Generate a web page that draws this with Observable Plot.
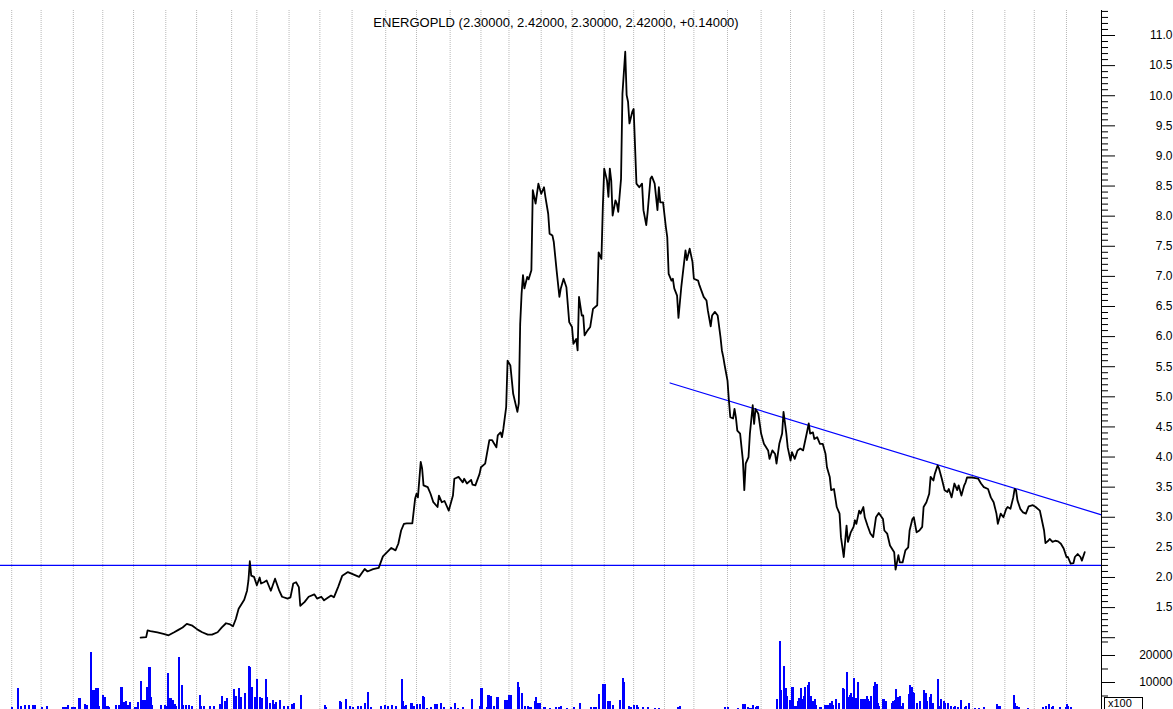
<!DOCTYPE html>
<html><head><meta charset="utf-8">
<script src="https://cdn.jsdelivr.net/npm/d3@7"></script>
<script src="https://cdn.jsdelivr.net/npm/@observablehq/plot@0.6"></script>
<style>
html,body{margin:0;padding:0;background:#fff;overflow:hidden;}
#wrap{position:relative;width:1173px;height:709px;overflow:hidden;font-family:"Liberation Sans",Arial,sans-serif;}
#wrap svg{position:absolute;left:0;top:0;}
#mult{position:absolute;left:1104px;top:697px;width:39px;height:16px;border:1px solid #000;font-size:11px;line-height:11px;padding-left:3px;box-sizing:border-box;background:#fff;}
</style></head>
<body><div id="wrap"></div>
<script>
// ---- data (session index, value) ----
const title = "ENERGOPLD (2.30000, 2.42000, 2.30000, 2.42000, +0.14000)";
const monthStarts = [8,29,52,73,95,118,140,165,183,206,228,251,275,297,321,343,363,386,408,431,452,474,495,519,543,564,588,609,629,652,674,694,717,738,761];
const supportLevel = 2.2;
const trendDays = [478, 786];
const trendValues = [5.23, 3.04];
const price = [[100,1.00],[104,1.01],[105,1.12],[107,1.11],[112,1.09],[117,1.06],[120,1.04],[124,1.09],[127,1.13],[130,1.17],[133,1.23],[137,1.20],[141,1.13],[144,1.09],[148,1.05],[151,1.05],[155,1.09],[158,1.17],[161,1.24],[164,1.22],[166,1.19],[168,1.31],[170,1.48],[174,1.63],[176,1.78],[177,1.95],[178,2.27],[179,2.03],[181,2.01],[183,1.87],[185,2.00],[186,1.90],[188,1.92],[190,1.95],[193,1.78],[196,1.98],[199,1.78],[201,1.68],[205,1.65],[207,1.67],[209,1.90],[211,1.92],[213,1.84],[214,1.53],[217,1.59],[220,1.68],[224,1.72],[226,1.65],[229,1.68],[231,1.62],[236,1.70],[238,1.67],[241,1.84],[244,2.03],[248,2.09],[251,2.06],[256,2.01],[260,2.14],[262,2.10],[266,2.14],[270,2.16],[273,2.35],[276,2.42],[279,2.49],[282,2.45],[284,2.56],[286,2.78],[288,2.89],[290,2.90],[294,2.90],[296,3.31],[297,3.39],[298,3.33],[300,3.92],[301,3.81],[302,3.53],[305,3.50],[307,3.39],[309,3.25],[312,3.17],[313,3.36],[315,3.25],[317,3.27],[320,3.11],[323,3.36],[324,3.64],[327,3.67],[330,3.58],[331,3.64],[333,3.56],[336,3.62],[337,3.54],[339,3.53],[342,3.72],[343,3.83],[346,3.89],[349,4.28],[351,4.28],[354,4.16],[355,4.36],[357,4.41],[358,4.33],[359,4.47],[361,4.83],[362,5.60],[364,5.52],[366,5.05],[369,4.75],[370,4.89],[371,6.21],[372,6.71],[373,7.02],[374,6.80],[376,6.99],[377,6.95],[379,7.10],[380,8.43],[382,8.21],[384,8.54],[386,8.37],[388,8.48],[389,8.32],[391,8.04],[392,7.71],[394,7.68],[395,7.57],[397,7.10],[399,6.66],[400,6.80],[402,6.96],[404,6.82],[406,6.24],[408,6.16],[409,5.88],[411,5.96],[412,5.77],[413,6.66],[415,6.35],[416,6.35],[417,6.02],[419,6.10],[421,6.16],[423,6.46],[426,6.52],[427,7.40],[429,7.29],[430,8.15],[431,8.79],[433,8.59],[434,8.32],[435,8.79],[436,8.59],[437,8.01],[439,8.26],[440,8.21],[441,8.07],[443,8.62],[444,10.03],[446,10.73],[447,10.01],[448,9.90],[449,9.54],[451,9.73],[452,9.78],[454,8.54],[456,8.48],[458,8.54],[459,8.10],[461,7.85],[462,8.07],[464,8.62],[465,8.66],[467,8.54],[469,8.10],[470,8.48],[471,8.23],[473,8.23],[475,7.82],[476,7.65],[477,7.04],[479,6.93],[480,6.96],[481,6.80],[483,6.68],[484,6.31],[486,6.82],[489,7.43],[490,7.27],[492,7.46],[494,7.24],[495,6.96],[498,6.93],[499,6.85],[502,6.66],[504,6.60],[505,6.43],[507,6.17],[508,6.35],[510,6.41],[512,6.35],[514,5.99],[515,5.77],[516,5.66],[517,5.52],[519,5.27],[520,4.94],[521,4.66],[523,4.64],[524,4.80],[525,4.66],[526,4.44],[528,4.39],[530,3.94],[531,3.45],[532,3.89],[534,4.00],[535,4.39],[537,4.86],[538,4.55],[539,4.80],[541,4.72],[543,4.39],[545,4.22],[548,4.11],[549,3.97],[551,4.11],[553,4.05],[554,3.89],[556,4.22],[558,4.39],[559,4.75],[561,4.39],[562,4.16],[564,3.94],[565,4.08],[567,3.97],[569,4.11],[571,4.14],[573,4.11],[574,4.22],[576,4.44],[577,4.56],[578,4.39],[580,4.41],[581,4.30],[583,4.33],[585,4.22],[587,4.22],[589,4.05],[590,3.83],[592,3.67],[593,3.45],[595,3.47],[597,3.17],[599,3.06],[600,2.67],[602,2.34],[604,2.86],[605,2.59],[607,2.75],[609,2.84],[610,2.95],[611,2.89],[613,3.11],[614,3.06],[616,3.17],[617,3.00],[619,2.86],[621,2.73],[623,2.67],[625,3.00],[627,3.07],[630,2.97],[631,2.78],[633,2.73],[635,2.53],[638,2.42],[639,2.13],[641,2.37],[642,2.25],[644,2.25],[646,2.45],[648,2.50],[649,2.78],[651,2.97],[652,3.00],[654,2.75],[656,2.78],[658,2.84],[659,3.17],[661,3.25],[663,3.39],[664,3.67],[666,3.61],[667,3.72],[669,3.86],[670,3.81],[672,3.64],[674,3.45],[676,3.42],[677,3.47],[679,3.33],[681,3.56],[683,3.45],[684,3.53],[686,3.36],[688,3.53],[689,3.58],[690,3.66],[694,3.66],[698,3.64],[700,3.56],[702,3.50],[705,3.47],[707,3.33],[709,3.25],[711,3.06],[712,2.89],[714,3.06],[716,3.00],[718,3.14],[719,3.17],[721,3.14],[723,3.33],[724,3.47],[725,3.45],[726,3.28],[728,3.14],[730,3.08],[732,3.06],[734,3.18],[737,3.20],[739,3.17],[742,3.11],[743,3.00],[745,2.78],[746,2.57],[748,2.61],[749,2.64],[751,2.59],[753,2.61],[755,2.60],[757,2.56],[759,2.48],[761,2.34],[762,2.34],[764,2.23],[766,2.24],[767,2.34],[769,2.39],[771,2.34],[772,2.28],[774,2.42]];
const volume = [[8,850],[12,7700],[14,1200],[17,1300],[20,1400],[23,1300],[24,1300],[29,600],[33,1100],[44,700],[46,900],[48,1600],[51,700],[53,900],[56,4000],[60,2000],[61,1600],[64,21000],[66,7100],[68,7700],[69,7700],[70,1100],[73,5200],[74,4300],[76,1100],[77,900],[82,1600],[84,1300],[86,8000],[88,2500],[89,2800],[91,1600],[92,2500],[96,700],[98,2700],[100,10300],[101,3500],[103,3500],[104,8000],[106,15500],[107,4500],[108,1300],[114,1600],[117,1600],[118,1100],[119,13300],[120,1300],[121,4200],[123,3500],[124,2000],[125,1100],[127,19100],[129,8900],[130,1300],[132,1600],[134,1500],[136,1200],[142,5200],[143,1100],[145,1100],[149,1100],[152,1100],[156,2000],[158,4800],[160,3000],[161,4000],[166,7400],[167,4500],[168,5000],[170,7700],[171,4500],[174,5800],[177,15800],[178,15600],[179,8200],[181,4500],[183,11100],[185,4500],[186,4000],[189,11100],[190,4500],[192,2300],[194,3500],[195,1900],[196,2700],[199,3500],[202,1100],[205,1100],[208,1900],[209,2100],[214,5200],[231,1300],[232,600],[242,3100],[243,2500],[246,3700],[249,1100],[251,900],[255,1100],[257,1100],[260,2100],[262,6400],[264,600],[271,1100],[274,1400],[276,1100],[279,1400],[282,1100],[286,11100],[287,2800],[288,1100],[289,1300],[293,2300],[295,1100],[297,1900],[299,1900],[301,4900],[302,4300],[304,300],[307,900],[310,1900],[311,1900],[314,2300],[316,700],[321,900],[324,2100],[326,300],[330,900],[336,3700],[342,1100],[343,7700],[347,900],[348,5200],[350,4800],[352,1100],[354,4600],[355,4600],[360,3500],[361,3500],[363,5200],[364,5200],[369,9900],[370,8200],[372,5800],[374,1100],[376,1100],[378,600],[381,2800],[382,4300],[383,2300],[385,2100],[388,700],[392,300],[396,700],[398,900],[400,1100],[404,500],[409,700],[413,2100],[421,700],[423,600],[425,700],[427,5600],[430,9300],[431,9300],[433,2800],[435,2800],[437,1400],[442,3500],[444,11400],[445,10000],[448,1100],[450,900],[452,1400],[454,1400],[455,900],[458,900],[462,600],[467,400],[470,400],[483,700],[485,1100],[517,700],[519,900],[526,400],[530,1700],[531,1700],[533,900],[535,400],[537,1500],[539,900],[540,1100],[554,3700],[556,25100],[557,7000],[559,16000],[560,7600],[561,4800],[563,3500],[565,8000],[567,1100],[568,1100],[569,2800],[570,4000],[571,7700],[572,3700],[573,4800],[574,8300],[576,8900],[577,9900],[578,4800],[580,2800],[581,3700],[582,1300],[585,600],[588,1600],[590,1600],[592,2100],[593,2800],[594,1300],[596,3700],[598,2100],[601,7700],[602,7400],[604,13800],[605,4500],[606,5200],[607,5800],[608,4500],[609,11500],[610,3900],[611,3700],[612,10100],[614,3700],[615,3700],[617,3700],[618,4800],[619,3700],[620,2800],[621,5000],[623,8500],[624,10100],[625,9300],[626,2100],[627,1100],[630,3700],[631,2100],[632,2800],[636,2100],[637,2800],[638,3500],[639,7400],[640,4300],[642,4800],[643,1100],[644,2100],[648,5600],[649,8900],[650,8300],[651,6400],[652,6100],[654,2100],[656,2800],[659,7000],[660,6100],[661,2800],[663,4600],[664,5400],[665,2100],[669,11100],[670,1100],[671,3700],[673,2800],[674,2100],[676,2300],[678,1100],[680,600],[681,1100],[683,900],[685,3200],[688,900],[689,1100],[691,2100],[695,400],[698,400],[702,600],[711,1900],[712,1100],[713,1100],[723,5200],[724,2100],[725,1100],[727,900],[733,400],[744,600],[746,1100],[748,1900],[750,900],[751,1100],[756,600],[760,900],[761,1900],[762,1100],[764,600]];
const priceMajorTicks = [1,1.5,2,2.5,3,3.5,4,4.5,5,5.5,6,6.5,7,7.5,8,8.5,9,9.5,10,10.5,11];
const priceMinorTicks = d3.range(10, 115).filter(v => v % 5 !== 0).map(v => v / 10);
const priceLabels = ["1.5","2.0","2.5","3.0","3.5","4.0","4.5","5.0","5.5","6.0","6.5","7.0","7.5","8.0","8.5","9.0","9.5","10.0","10.5","11.0"];
const volMajorTicks = [10000, 20000];
const volMinorTicks = [5000, 15000, 25000];
const volLabels = ["10000", "20000"];

const trend = trendDays.map((d, i) => ({d, v: trendValues[i]}));
const W = 1173, H = 709;
const baseStyle = {fontFamily: "'Liberation Sans', Arial, sans-serif", fontSize: "12px", overflow: "hidden", color: "#000"};
const extend = {insetTop: -25, insetBottom: -72};

const priceChart = Plot.plot({
  width: W, height: H, marginLeft: 0, marginRight: 72, marginTop: 35, marginBottom: 71.8,
  style: {...baseStyle, background: "#fff"},
  x: {domain: [0, 786], axis: null},
  y: {domain: [1, 11]},
  marks: [
    Plot.ruleX(monthStarts, {stroke: "#b8b8b8", strokeDasharray: "1,1", ...extend}),
    Plot.ruleY([supportLevel], {stroke: "#0000ff", strokeWidth: 1.2}),
    Plot.line(trend, {x: "d", y: "v", stroke: "#0000ff", strokeWidth: 1.2}),
    Plot.line(price, {x: d => d[0], y: d => d[1], stroke: "#000", strokeWidth: 1.8, curve: "linear"}),
    Plot.axisY({ticks: priceMinorTicks, anchor: "right", tickSize: 6, tickFormat: () => "", label: null}),
    Plot.axisY({ticks: priceMajorTicks, anchor: "right", tickSize: 13, tickFormat: () => "", label: null}),
    Plot.text(priceLabels, {y: d => +d, text: d => d, frameAnchor: "right", dx: 71, textAnchor: "end", fontSize: 12}),
    Plot.ruleX([786], {stroke: "#000", ...extend}),
    Plot.text([title], {frameAnchor: "top", dx: 5, dy: -13, lineAnchor: "middle", fontSize: 13})
  ]
});

const volChart = Plot.plot({
  width: W, height: H, marginLeft: 0, marginRight: 72, marginTop: 609, marginBottom: 0,
  style: {...baseStyle, background: "transparent"},
  x: {domain: [0, 786], axis: null},
  y: {domain: [0, 37037]},
  marks: [
    Plot.rectY(volume, {x: d => d[0], y: d => d[1], interval: 1, insetRight: -0.7, fill: "#0000ff", shapeRendering: "crispEdges"}),
    Plot.axisY({ticks: volMinorTicks, anchor: "right", tickSize: 6, tickFormat: () => "", label: null}),
    Plot.axisY({ticks: volMajorTicks, anchor: "right", tickSize: 13, tickFormat: () => "", label: null}),
    Plot.text(volMajorTicks, {y: d => d, text: (d, i) => volLabels[i], frameAnchor: "right", dx: 71, textAnchor: "end", fontSize: 12})
  ]
});

const wrap = document.getElementById("wrap");
wrap.appendChild(priceChart);
wrap.appendChild(volChart);
const mult = document.createElement("div");
mult.id = "mult";
mult.textContent = "x100";
wrap.appendChild(mult);
</script>
</body></html>
